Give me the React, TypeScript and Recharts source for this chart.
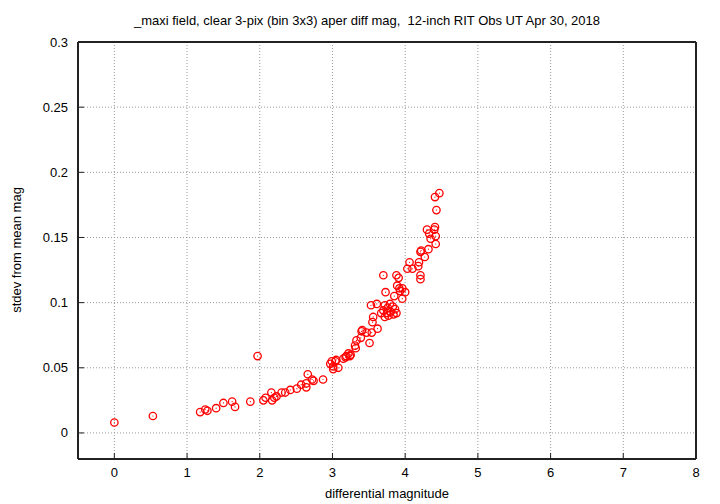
import React from 'react';
import { ScatterChart, Scatter, XAxis, YAxis, CartesianGrid, Label } from 'recharts';

// differential magnitude of each star
const magnitudes = [
  0.0, 0.53, 1.18, 1.25, 1.28, 1.4, 1.5, 1.62, 1.66, 1.87, 1.97, 2.05, 2.08, 2.16, 2.17,
  2.2, 2.23, 2.3, 2.35, 2.42, 2.51, 2.57, 2.64, 2.64, 2.66, 2.72, 2.74, 2.87, 2.97, 2.99,
  3.01, 3.01, 3.04, 3.05, 3.08, 3.15, 3.18, 3.19, 3.22, 3.24, 3.25, 3.31, 3.32, 3.33, 3.39,
  3.4, 3.41, 3.47, 3.51, 3.54, 3.55, 3.56, 3.53, 3.61, 3.62, 3.67, 3.7, 3.7, 3.72, 3.72,
  3.73, 3.75, 3.76, 3.77, 3.79, 3.8, 3.83, 3.84, 3.85, 3.86, 3.88, 3.88, 3.89, 3.91, 3.92,
  3.93, 3.96, 3.96, 4.0, 4.03, 4.06, 4.1, 4.18, 4.19, 4.21, 4.21, 4.21, 4.22, 4.27, 4.3,
  4.32, 4.33, 4.35, 4.4, 4.41, 4.42, 4.42, 4.43, 4.41, 4.47,
];

// stdev from mean mag, same order
const stdevs = [
  0.008, 0.013, 0.016, 0.018, 0.017, 0.019, 0.023, 0.024, 0.02, 0.024, 0.059, 0.025, 0.027, 0.031, 0.025,
  0.027, 0.028, 0.031, 0.031, 0.033, 0.034, 0.037, 0.038, 0.035, 0.045, 0.041, 0.04, 0.041, 0.053, 0.055,
  0.049, 0.051, 0.055, 0.056, 0.05, 0.057, 0.058, 0.059, 0.061, 0.059, 0.06, 0.067, 0.065, 0.071, 0.073,
  0.078, 0.079, 0.077, 0.069, 0.077, 0.085, 0.089, 0.098, 0.099, 0.08, 0.092, 0.094, 0.121, 0.098, 0.089,
  0.108, 0.092, 0.096, 0.09, 0.099, 0.093, 0.097, 0.091, 0.105, 0.095, 0.092, 0.121, 0.113, 0.119, 0.111,
  0.109, 0.111, 0.103, 0.108, 0.126, 0.131, 0.126, 0.128, 0.131, 0.121, 0.118, 0.139, 0.14, 0.135, 0.156,
  0.141, 0.153, 0.149, 0.156, 0.158, 0.151, 0.145, 0.171, 0.181, 0.184,
];

const xTicks = [0, 1, 2, 3, 4, 5, 6, 7, 8];
const yTicks = [0, 0.05, 0.1, 0.15, 0.2, 0.25, 0.3];

const points = magnitudes.map((m, i) => ({ mag: m, sd: stdevs[i] }));

const font = { fontFamily: '"Liberation Sans", Arial, sans-serif', fontSize: 13, fill: '#000' };
const frame = { stroke: '#222', strokeWidth: 2 };

const BottomTick = (props: any) => {
  const { x, y, payload } = props;
  return (
    <g>
      <line x1={x} x2={x} y1={y} y2={y - 6} stroke="#222" />
      <text x={x} y={y + 18} textAnchor="middle" {...font}>{payload.value}</text>
    </g>
  );
};

const TopTick = (props: any) => {
  const { x, y } = props;
  return <line x1={x} x2={x} y1={y} y2={y + 6} stroke="#222" />;
};

const LeftTick = (props: any) => {
  const { x, y, payload } = props;
  return (
    <g>
      <line x1={x} x2={x + 6} y1={y} y2={y} stroke="#222" />
      <text x={x - 10} y={y + 4.5} textAnchor="end" {...font}>{payload.value}</text>
    </g>
  );
};

const RightTick = (props: any) => {
  const { x, y } = props;
  return <line x1={x} x2={x - 6} y1={y} y2={y} stroke="#222" />;
};

const Ring = (props: any) => {
  const { cx, cy } = props;
  return (
    <g>
      <circle cx={cx} cy={cy} r={3.7} fill="none" stroke="#ff0000" strokeWidth={1.3} />
      <circle cx={cx} cy={cy} r={0.6} fill="#ff0000" />
    </g>
  );
};

const App: React.FC = () => {
  return (
    <div style={{ position: 'absolute', left: 0, top: 0, background: '#fff' }}>
      <ScatterChart width={720} height={504} margin={{ top: 41, right: 23, bottom: 0, left: 0 }}>
        <CartesianGrid stroke="#999" strokeDasharray="1 2" />
        <XAxis
          type="number"
          dataKey="mag"
          domain={[-0.5, 8]}
          ticks={xTicks}
          height={45}
          tickSize={0}
          tickMargin={0}
          tickLine={false}
          tick={<BottomTick />}
          axisLine={frame}
          interval={0}
        >
          <Label
            content={() => (
              <text x={387} y={498} textAnchor="middle" {...font}>differential magnitude</text>
            )}
          />
        </XAxis>
        <XAxis
          xAxisId="top"
          orientation="top"
          type="number"
          dataKey="mag"
          domain={[-0.5, 8]}
          ticks={xTicks}
          height={1}
          tickSize={0}
          tickMargin={0}
          tickLine={false}
          tick={<TopTick />}
          axisLine={frame}
          interval={0}
        >
          <Label
            content={() => (
              <text x={367} y={25} textAnchor="middle" style={{ whiteSpace: 'pre' }} {...font}>
                {'_maxi field, clear 3-pix (bin 3x3) aper diff mag,  12-inch RIT Obs UT Apr 30, 2018'}
              </text>
            )}
          />
        </XAxis>
        <YAxis
          type="number"
          dataKey="sd"
          domain={[-0.02, 0.3]}
          ticks={yTicks}
          width={78}
          tickSize={0}
          tickMargin={0}
          tickLine={false}
          tick={<LeftTick />}
          axisLine={frame}
          interval={0}
        >
          <Label
            content={() => (
              <text x={21} y={250} textAnchor="middle" transform="rotate(-90 21 250)" {...font}>
                stdev from mean mag
              </text>
            )}
          />
        </YAxis>
        <YAxis
          yAxisId="right"
          orientation="right"
          type="number"
          dataKey="sd"
          domain={[-0.02, 0.3]}
          ticks={yTicks}
          width={1}
          tickSize={0}
          tickMargin={0}
          tickLine={false}
          tick={<RightTick />}
          axisLine={frame}
          interval={0}
        />
        {/* empty series only to make the mirror axes (top, right) render */}
        <Scatter data={[]} xAxisId="top" yAxisId="right" isAnimationActive={false} />
        <Scatter data={points} shape={<Ring />} isAnimationActive={false} />
      </ScatterChart>
    </div>
  );
};

export default App;
